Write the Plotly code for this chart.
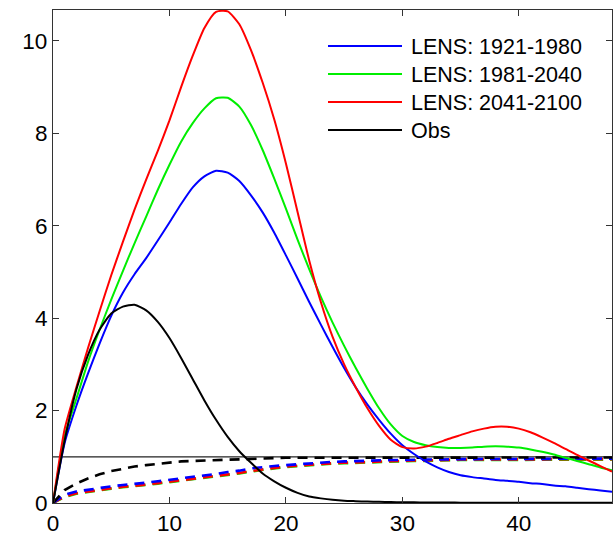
import plotly.graph_objects as go

# ---- data ----
x = list(range(0, 49))

lens_1921_1980 = [0, 1.3, 2.1, 2.8, 3.45, 4.05, 4.55, 4.95, 5.3, 5.68,
                  6.07, 6.47, 6.83, 7.07, 7.19, 7.15, 6.97, 6.66, 6.29, 5.85,
                  5.36, 4.86, 4.35, 3.86, 3.38, 2.92, 2.5, 2.13, 1.8, 1.5,
                  1.25, 1.06, 0.9, 0.77, 0.67, 0.6, 0.56, 0.53, 0.5, 0.48,
                  0.46, 0.43, 0.41, 0.38, 0.36, 0.33, 0.3, 0.27, 0.245]

lens_1981_2040 = [0, 1.45, 2.25, 3.05, 3.75, 4.4, 5.02, 5.62, 6.2, 6.78,
                  7.32, 7.82, 8.22, 8.54, 8.76, 8.77, 8.58, 8.18, 7.64, 7.02,
                  6.37, 5.7, 5.06, 4.46, 3.91, 3.4, 2.92, 2.47, 2.05, 1.7,
                  1.45, 1.32, 1.25, 1.21, 1.19, 1.19, 1.2, 1.22, 1.23, 1.22,
                  1.2, 1.16, 1.11, 1.05, 0.98, 0.91, 0.84, 0.77, 0.71]

lens_2041_2100 = [0, 1.6, 2.5, 3.35, 4.15, 4.93, 5.65, 6.35, 7.0, 7.62,
                  8.28, 9.0, 9.68, 10.28, 10.63, 10.64, 10.36, 9.8, 9.1, 8.3,
                  7.35, 6.3, 5.25, 4.35, 3.6, 3.0, 2.5, 2.05, 1.67, 1.37,
                  1.21, 1.18, 1.22, 1.3, 1.39, 1.47, 1.55, 1.61, 1.65, 1.65,
                  1.61, 1.53, 1.42, 1.3, 1.17, 1.04, 0.92, 0.8, 0.68]

obs = [0, 1.35, 2.45, 3.2, 3.75, 4.1, 4.25, 4.29, 4.17, 3.92,
       3.57, 3.14, 2.68, 2.22, 1.8, 1.43, 1.12, 0.87, 0.64, 0.47,
       0.33, 0.22, 0.14, 0.1, 0.07, 0.05, 0.04, 0.03, 0.025, 0.02,
       0.017, 0.014, 0.012, 0.01, 0.01, 0.008, 0.008, 0.007, 0.007, 0.006,
       0.006, 0.005, 0.005, 0.005, 0.004, 0.004, 0.004, 0.003, 0.003]

dash_1921_1980 = [0, 0.18, 0.25, 0.29, 0.33, 0.36, 0.39, 0.41, 0.44, 0.47,
                  0.5, 0.53, 0.56, 0.6, 0.63, 0.67, 0.7, 0.75, 0.78, 0.8,
                  0.82, 0.84, 0.86, 0.88, 0.89, 0.9, 0.91, 0.92, 0.92, 0.93,
                  0.93, 0.94, 0.94, 0.94, 0.95, 0.95, 0.95, 0.95, 0.95, 0.96,
                  0.96, 0.96, 0.96, 0.96, 0.96, 0.96, 0.96, 0.96, 0.96]

dash_1981_2040 = [0, 0.13, 0.2, 0.24, 0.28, 0.31, 0.34, 0.36, 0.39, 0.42,
                  0.45, 0.48, 0.51, 0.54, 0.57, 0.6, 0.64, 0.68, 0.72, 0.75,
                  0.78, 0.8, 0.82, 0.84, 0.85, 0.86, 0.87, 0.88, 0.89, 0.89,
                  0.9, 0.91, 0.91, 0.92, 0.92, 0.93, 0.93, 0.93, 0.93, 0.94,
                  0.94, 0.94, 0.94, 0.94, 0.94, 0.94, 0.94, 0.94, 0.94]

dash_2041_2100 = [0, 0.14, 0.21, 0.25, 0.29, 0.32, 0.35, 0.37, 0.4, 0.43,
                  0.46, 0.49, 0.52, 0.55, 0.58, 0.61, 0.65, 0.69, 0.73, 0.76,
                  0.79, 0.81, 0.83, 0.85, 0.86, 0.87, 0.88, 0.89, 0.9, 0.9,
                  0.91, 0.92, 0.92, 0.93, 0.93, 0.94, 0.94, 0.94, 0.94, 0.95,
                  0.95, 0.95, 0.95, 0.95, 0.95, 0.95, 0.95, 0.95, 0.95]

dash_obs = [0, 0.28, 0.42, 0.53, 0.62, 0.69, 0.74, 0.79, 0.82, 0.85,
            0.88, 0.9, 0.91, 0.92, 0.93, 0.94, 0.95, 0.96, 0.97, 0.97,
            0.98, 0.98, 0.98, 0.985, 0.985, 0.985, 0.985, 0.985, 0.985, 0.985,
            0.985, 0.985, 0.985, 0.985, 0.985, 0.985, 0.985, 0.985, 0.985, 0.985,
            0.985, 0.985, 0.985, 0.985, 0.985, 0.985, 0.985, 0.985, 0.985]

ref_x = [0, 48]
ref_y = [1, 1]

names = ["LENS: 1921-1980", "LENS: 1981-2040", "LENS: 2041-2100", "Obs"]
colors = ["#0000ff", "#00ee00", "#ff0000", "#000000"]
solid = [lens_1921_1980, lens_1981_2040, lens_2041_2100, obs]
dashed = [dash_1921_1980, dash_1981_2040, dash_2041_2100, dash_obs]

FONT = "Liberation Sans, Arial, Helvetica, sans-serif"

fig = go.Figure()

fig.add_trace(go.Scatter(x=ref_x, y=ref_y, mode="lines",
                         line=dict(color="#222222", width=1.3),
                         showlegend=False, hoverinfo="skip"))

# dashed lines (green under red, blue on top)
for i in [1, 2, 0, 3]:
    fig.add_trace(go.Scatter(x=x, y=dashed[i], mode="lines",
                             line=dict(color=colors[i], width=2.6, dash="10px,7px"),
                             showlegend=False, hoverinfo="skip"))

for i in range(4):
    fig.add_trace(go.Scatter(x=x, y=solid[i], mode="lines", name=names[i],
                             line=dict(color=colors[i], width=2, shape="spline", smoothing=0.6),
                             showlegend=False))

# manual legend (long line samples like the original)
W, H = 615, 538
L, R, T, B = 53, 3, 10, 35
pw, ph = W - L - R, H - T - B

def px_to_paper_x(px):
    return (px - L) / pw

def py_to_paper_y(py):
    return (H - B - py) / ph

legend_rows = [46, 74, 102, 130]
for i, py in enumerate(legend_rows):
    yy = py_to_paper_y(py)
    fig.add_shape(type="line", xref="paper", yref="paper",
                  x0=px_to_paper_x(328), x1=px_to_paper_x(402), y0=yy, y1=yy,
                  line=dict(color=colors[i], width=2))
    fig.add_annotation(xref="paper", yref="paper", x=px_to_paper_x(409),
                       y=py_to_paper_y(py + 1), text=names[i], showarrow=False,
                       xanchor="left", yanchor="middle",
                       font=dict(family=FONT, size=21.5, color="#000000"))

fig.update_layout(
    width=W, height=H,
    margin=dict(l=L, r=R, t=T, b=B),
    paper_bgcolor="white", plot_bgcolor="white",
    font=dict(family=FONT, size=22, color="#000000"),
    showlegend=False,
)
fig.update_xaxes(range=[0, 48], tickvals=[0, 10, 20, 30, 40],
                 ticks="inside", ticklen=6, tickcolor="#333333",
                 showline=True, linecolor="#333333", linewidth=1.2, mirror="ticks",
                 showgrid=False, zeroline=False,
                 tickfont=dict(family=FONT, size=22.5, color="#000000"))
fig.update_yaxes(range=[0, 10.67], tickvals=[0, 2, 4, 6, 8, 10],
                 ticks="inside", ticklen=6, tickcolor="#333333",
                 showline=True, linecolor="#333333", linewidth=1.2, mirror="ticks",
                 showgrid=False, zeroline=False,
                 tickfont=dict(family=FONT, size=22.5, color="#000000"))

fig.write_html("out.html")
